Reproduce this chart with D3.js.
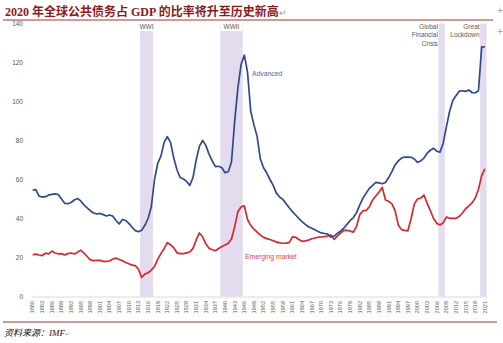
<!DOCTYPE html>
<html>
<head>
<meta charset="utf-8">
<script src="https://cdn.jsdelivr.net/npm/d3@7"></script>
<style>
  html, body { margin: 0; padding: 0; background: #fff; }
  svg { display: block; }
</style>
</head>
<body>
<div id="chart"></div>
<script>
/** Years on the category axis, one per data point */
var years = d3.range(1880, 2022);

/** Public debt, % of GDP: advanced economies (one row per decade) */
var advanced = [
    54.5, 54.8, 51.5, 51.0, 51.2, 52.0, 52.4, 52.6, 52.3, 50.0,
    47.8, 47.6, 48.2, 49.5, 50.3, 49.0, 47.0, 45.5, 44.0, 42.8,
    42.3, 42.6, 42.0, 41.3, 41.8, 41.2, 39.0, 37.2, 39.5, 39.0,
    37.5, 35.5, 33.8, 33.2, 34.0, 36.5, 40.0, 46.0, 60.0, 68.2,
    72.0, 79.0, 82.0, 79.0, 71.0, 65.0, 61.0, 60.3, 59.0, 57.0,
    61.0, 70.0, 77.0, 80.0, 77.5, 73.0, 69.5, 66.6, 66.8, 66.0,
    63.5, 64.0, 69.0, 90.0, 107.0, 119.0, 123.8, 115.0, 95.0, 88.0,
    82.0, 70.5, 66.0, 63.3, 60.0, 57.0, 53.0, 51.0, 49.8, 47.7,
    45.5, 43.5, 41.8, 40.0, 38.4, 37.0, 35.8, 35.0, 34.2, 33.3,
    32.6, 32.3, 32.0, 30.5, 31.0, 32.4, 33.5, 35.0, 37.0, 39.0,
    40.5, 43.0, 47.0, 50.5, 53.0, 55.5, 57.0, 58.5, 58.3, 57.8,
    58.5, 61.0, 64.0, 67.5, 69.5, 71.0, 71.5, 71.5, 71.4, 70.5,
    68.8, 69.5, 71.0, 73.5, 75.0, 76.0, 74.5, 74.0, 78.6, 87.0,
    95.0, 100.5, 103.0, 105.3, 105.5, 105.2, 105.9, 104.6, 104.5, 105.5,
    128.0, 128.0
];

/** Public debt, % of GDP: emerging markets (one row per decade) */
var emerging = [
    21.4, 21.7, 21.3, 21.0, 22.2, 21.9, 23.3, 22.3, 21.9, 22.0,
    21.3, 22.0, 22.3, 21.8, 22.7, 23.8, 22.3, 20.5, 18.8, 18.4,
    18.5, 18.6, 18.0, 18.0, 18.2, 19.2, 19.7, 19.0, 18.3, 17.4,
    16.8, 16.1, 15.8, 14.0, 9.8, 11.5, 12.2, 13.5, 15.5, 19.0,
    22.0, 24.5, 27.6, 26.5, 25.0, 22.4, 22.0, 22.0, 22.4, 22.8,
    24.7, 29.0, 32.6, 30.6, 27.0, 24.8, 24.0, 23.5, 24.6, 25.6,
    26.4, 27.3, 29.5, 35.8, 43.5, 46.0, 46.5, 39.5, 36.5, 34.5,
    33.0, 31.5, 30.3, 29.7, 29.2, 28.6, 28.0, 27.5, 27.3, 27.4,
    27.6, 30.6, 30.4, 29.2, 28.3, 28.5, 28.9, 29.6, 30.0, 30.4,
    30.5, 30.7, 31.0, 31.5, 29.3, 31.0, 32.5, 33.8, 34.0, 33.5,
    33.0, 36.0, 42.0, 44.0, 44.2, 46.0, 49.5, 51.5, 53.5, 56.0,
    49.5, 48.8, 47.5, 44.0, 36.7, 34.3, 33.9, 33.7, 40.0, 47.5,
    50.0, 50.5, 52.0, 47.8, 44.0, 40.0, 37.5, 36.7, 37.8, 40.8,
    40.1, 40.1, 40.1, 41.0, 42.8, 45.0, 46.5, 48.0, 50.5, 55.0,
    62.0, 65.5
];

/** Y axis ticks */
var yTicks = [0, 20, 40, 60, 80, 100, 120, 140];

/** Shaded crisis periods: first and last year, and label lines */
var bandNames = ['WWI', 'WWII', 'Global Financial Crisis', 'Great Lockdown'];
var bandStart = [1914, 1939, 2007, 2020];
var bandEnd = [1917, 1945, 2008, 2021];
var bandLines = [['WWI'], ['WWII'], ['Global', 'Financial', 'Crisis'], ['Great', 'Lockdown']];

var titleText = '2020 年全球公共债务占 GDP 的比率将升至历史新高';
var sourceText = '资料来源：IMF';

/** Sizes */
var width = 503,
    height = 343,
    plotLeft = 31,
    plotRight = 486.5,
    plotTop = 23.5,
    plotBottom = 296.5;

var blue = '#2f4a8a',
    red = '#d9262c',
    bandColor = '#e4dbef',
    axisGray = '#595959';

var svg = d3.select('#chart').append('svg')
    .attr('width', width)
    .attr('height', height);

svg.append('rect')
    .attr('width', width)
    .attr('height', height)
    .attr('fill', '#fff');

// Scales
var x = d3.scaleBand()
    .domain(years)
    .range([plotLeft, plotRight])
    .padding(0);

var y = d3.scaleLinear()
    .domain([0, 140])
    .range([plotBottom, plotTop]);

function cx(year) {
    return x(year) + x.bandwidth() / 2;
}

// Header: title and the rule under it
svg.append('text')
    .attr('x', 5)
    .attr('y', 15.5)
    .style('font-family', '"Liberation Serif", "Noto Sans CJK SC", serif')
    .style('font-weight', 'bold')
    .style('font-size', '12px')
    .attr('fill', '#8b1a1a')
    .text(titleText)
    .append('tspan')
    .attr('fill', '#9a9a9a')
    .style('font-weight', 'normal')
    .style('font-size', '9px')
    .text('↵');

svg.append('line')
    .attr('x1', 3).attr('x2', 493)
    .attr('y1', 20).attr('y2', 20)
    .attr('stroke', '#a8332f')
    .attr('stroke-width', 1);

// Crisis bands
var bands = bandNames.map(function(name, i) {
    return {name: name, start: bandStart[i], end: bandEnd[i], lines: bandLines[i]};
});

svg.selectAll('rect.band')
    .data(bands)
    .enter()
    .append('rect')
    .attr('class', 'band')
    .attr('x', function(d) { return x(d.start); })
    .attr('width', function(d) { return x(d.end) + x.bandwidth() - x(d.start); })
    .attr('y', y(140))
    .attr('height', y(0) - y(140))
    .attr('fill', bandColor);

// War labels sit centred in white boxes over the band top
var warLabels = bands.slice(0, 2);
warLabels.forEach(function(d) {
    var mid = (x(d.start) + x(d.end) + x.bandwidth()) / 2;
    svg.append('rect')
        .attr('x', mid - 11)
        .attr('y', 21)
        .attr('width', 22)
        .attr('height', 10)
        .attr('fill', '#fff');
    svg.append('text')
        .attr('x', mid)
        .attr('y', 29)
        .attr('text-anchor', 'middle')
        .style('font-family', '"Liberation Sans", Arial, sans-serif')
        .style('font-size', '6.5px')
        .attr('fill', axisGray)
        .text(d.name);
});

// Crisis labels are right-aligned just left of their band
bands.slice(2).forEach(function(d) {
    var t = svg.append('text')
        .attr('x', x(d.start) - 0.5)
        .attr('y', 28.5)
        .attr('text-anchor', 'end')
        .style('font-family', '"Liberation Sans", Arial, sans-serif')
        .style('font-size', '6.5px')
        .attr('fill', axisGray);
    t.selectAll('tspan')
        .data(d.lines)
        .enter()
        .append('tspan')
        .attr('x', x(d.start) - 0.5)
        .attr('dy', function(l, i) { return i === 0 ? 0 : 8.6; })
        .text(function(l) { return l; });
});

// X axis: a label every third year
var xAxis = d3.axisBottom(x)
    .tickValues(years.filter(function(d) { return (d - 1880) % 3 === 0; }))
    .tickSize(0)
    .tickSizeOuter(0);

var gx = svg.append('g')
    .attr('transform', 'translate(0,' + plotBottom + ')')
    .call(xAxis);

gx.select('.domain')
    .attr('stroke', '#d9d9d9')
    .attr('stroke-width', 1.2);

gx.selectAll('text')
    .attr('transform', 'rotate(-90)')
    .attr('x', -4.5)
    .attr('y', 0)
    .attr('dy', '0.33em')
    .style('text-anchor', 'end')
    .style('font-family', '"Liberation Sans", Arial, sans-serif')
    .style('font-size', '5.6px')
    .attr('fill', axisGray);

// Y axis: labels only
var yAxis = d3.axisLeft(y)
    .tickValues(yTicks)
    .tickSize(0)
    .tickPadding(0);

var gy = svg.append('g')
    .attr('transform', 'translate(23,0)')
    .call(yAxis);

gy.select('.domain').remove();

gy.selectAll('text')
    .style('font-family', '"Liberation Sans", Arial, sans-serif')
    .style('font-size', '6.5px')
    .attr('fill', axisGray);

// Series lines
var line = d3.line()
    .x(function(d) { return cx(d.year); })
    .y(function(d) { return y(d.value); });

function seriesOf(values) {
    return years.map(function(yr, i) {
        return {year: yr, value: values[i]};
    });
}

svg.append('path')
    .datum(seriesOf(emerging))
    .attr('d', line)
    .attr('fill', 'none')
    .attr('stroke', red)
    .attr('stroke-width', 1.7)
    .attr('stroke-linejoin', 'round');

svg.append('path')
    .datum(seriesOf(advanced))
    .attr('d', line)
    .attr('fill', 'none')
    .attr('stroke', blue)
    .attr('stroke-width', 1.7)
    .attr('stroke-linejoin', 'round');

// Series labels
svg.append('text')
    .attr('x', 252)
    .attr('y', 75.5)
    .style('font-family', '"Liberation Sans", Arial, sans-serif')
    .style('font-size', '6.8px')
    .attr('fill', '#5a6a94')
    .text('Advanced');

svg.append('text')
    .attr('x', 245)
    .attr('y', 258.5)
    .style('font-family', '"Liberation Sans", Arial, sans-serif')
    .style('font-size', '6.8px')
    .attr('fill', '#e04448')
    .text('Emerging market');

// Footer: rule and source
svg.append('line')
    .attr('x1', 3).attr('x2', 497)
    .attr('y1', 322).attr('y2', 322)
    .attr('stroke', '#a8332f')
    .attr('stroke-width', 1);

svg.append('text')
    .attr('x', 4)
    .attr('y', 336)
    .style('font-family', '"Liberation Serif", "Noto Sans CJK SC", serif')
    .style('font-style', 'italic')
    .style('font-size', '9px')
    .attr('fill', '#111')
    .text(sourceText)
    .append('tspan')
    .attr('fill', '#9a9a9a')
    .style('font-style', 'normal')
    .style('font-size', '6px')
    .text('↵');

// Paragraph anchors in the right margin
[10, 31].forEach(function(ty) {
    svg.append('text')
        .attr('x', 500)
        .attr('y', ty + 3)
        .attr('text-anchor', 'middle')
        .style('font-family', '"DejaVu Sans", sans-serif')
        .style('font-size', '8px')
        .attr('fill', '#9a9a9a')
        .text('+');
});
</script>
</body>
</html>
